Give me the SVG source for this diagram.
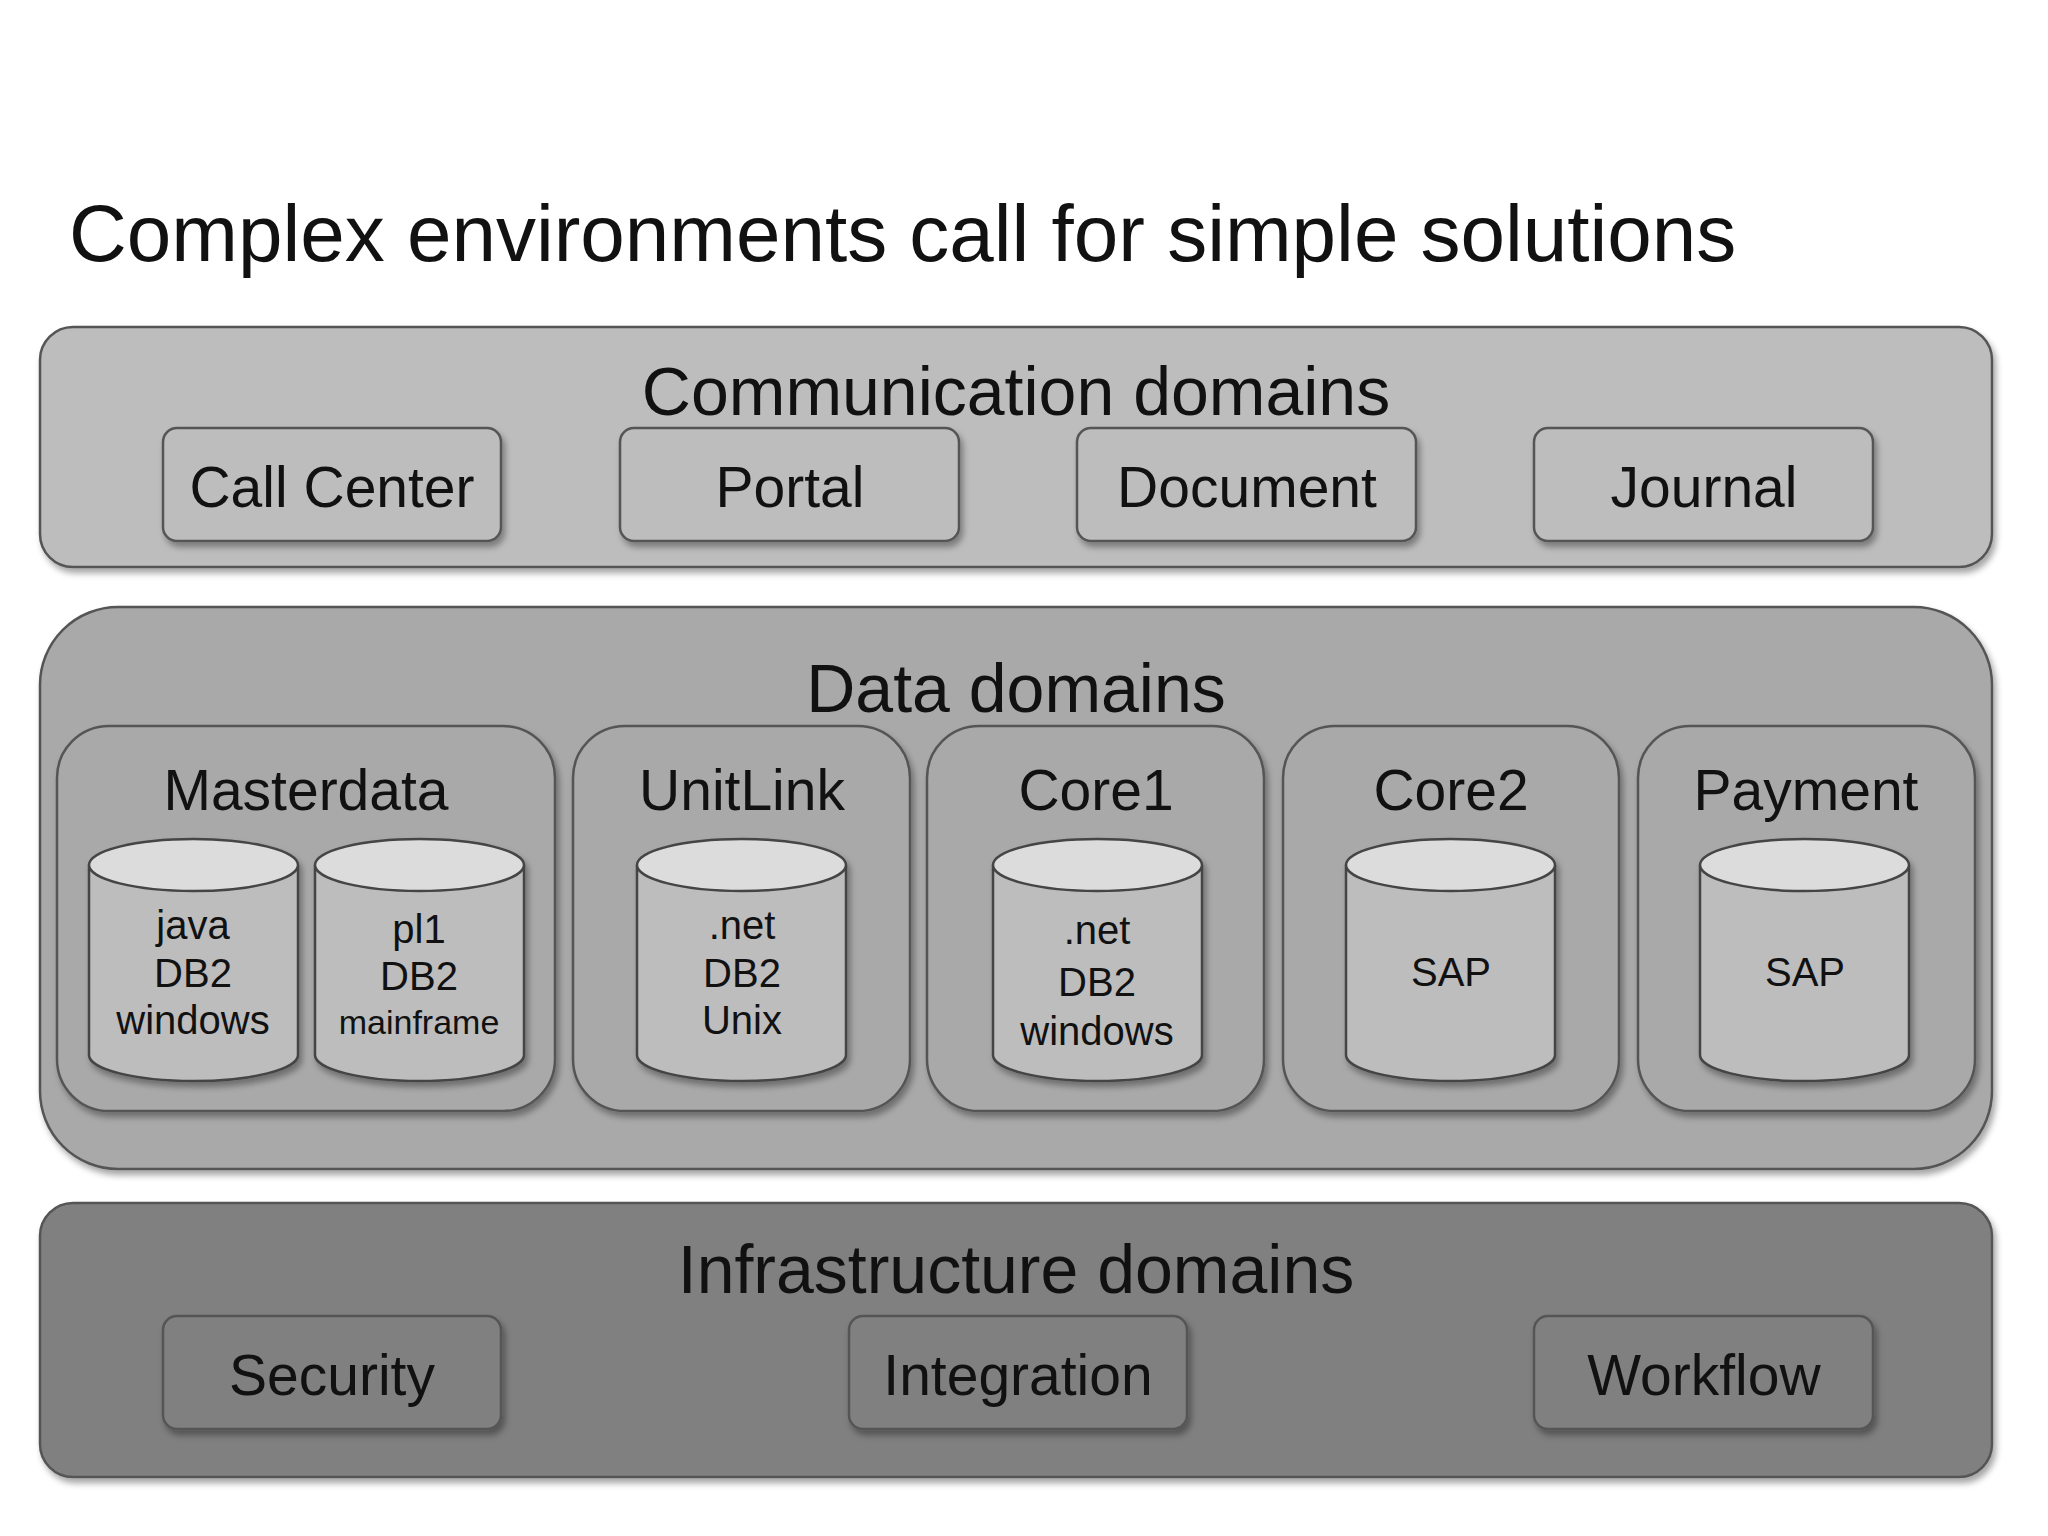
<svg xmlns="http://www.w3.org/2000/svg" width="2048" height="1536" viewBox="0 0 2048 1536">
<defs>
<filter id="sh" x="-10%" y="-10%" width="130%" height="130%"><feDropShadow dx="3" dy="5" stdDeviation="3" flood-color="#000" flood-opacity="0.35"/></filter>
<style>
text{font-family:"Liberation Sans",Arial,sans-serif;fill:#111;text-anchor:middle}
.box{stroke:#555;stroke-width:2.5;filter:url(#sh)}
.cyl{fill:#bdbdbd;stroke:#444;stroke-width:2.5}
.top{fill:#dcdcdc;stroke:#444;stroke-width:2.5}
.h{font-size:68px}.n{font-size:57px}.c{font-size:40px}
</style>
</defs>
<rect width="2048" height="1536" fill="#fff"/>
<text x="69" y="261" style="font-size:80px;text-anchor:start">Complex environments call for simple solutions</text>
<g id="comm">
<rect class="box" x="40" y="327" width="1952" height="240" rx="33" fill="#bdbdbd"/>
<text class="h" x="1016" y="415">Communication domains</text>
<g id="callcenter"><rect class="box" x="163" y="428" width="338" height="113" rx="14" fill="#bdbdbd"/><text class="n" x="332" y="507">Call Center</text></g>
<g id="portal"><rect class="box" x="620" y="428" width="339" height="113" rx="14" fill="#bdbdbd"/><text class="n" x="790" y="507">Portal</text></g>
<g id="document"><rect class="box" x="1077" y="428" width="339" height="113" rx="14" fill="#bdbdbd"/><text class="n" x="1247" y="507">Document</text></g>
<g id="journal"><rect class="box" x="1534" y="428" width="339" height="113" rx="14" fill="#bdbdbd"/><text class="n" x="1704" y="507">Journal</text></g>
</g>
<g id="data">
<rect class="box" x="40" y="607" width="1952" height="562" rx="78" fill="#a9a9a9"/>
<text class="h" x="1016" y="712">Data domains</text>
<g id="masterdata"><rect class="box" x="57" y="726" width="498" height="385" rx="52" fill="#a9a9a9"/><text class="n" x="306" y="810">Masterdata</text></g>
<g id="unitlink"><rect class="box" x="573" y="726" width="337" height="385" rx="52" fill="#a9a9a9"/><text class="n" x="742" y="810">UnitLink</text></g>
<g id="core1"><rect class="box" x="927" y="726" width="337" height="385" rx="52" fill="#a9a9a9"/><text class="n" x="1096" y="810">Core1</text></g>
<g id="core2"><rect class="box" x="1283" y="726" width="336" height="385" rx="52" fill="#a9a9a9"/><text class="n" x="1451" y="810">Core2</text></g>
<g id="payment"><rect class="box" x="1638" y="726" width="337" height="385" rx="52" fill="#a9a9a9"/><text class="n" x="1806" y="810">Payment</text></g>
<g id="db1" filter="url(#sh)"><path class="cyl" d="M89 865 V1055 A104.5 26 0 0 0 298 1055 V865"/><ellipse class="top" cx="193.5" cy="865" rx="104.5" ry="26"/></g>
<text class="c" x="193" y="939">java</text><text class="c" x="193" y="987">DB2</text><text class="c" x="193" y="1034">windows</text>
<g id="db2" filter="url(#sh)"><path class="cyl" d="M315 865 V1055 A104.5 26 0 0 0 524 1055 V865"/><ellipse class="top" cx="419.5" cy="865" rx="104.5" ry="26"/></g>
<text class="c" x="419" y="943">pl1</text><text class="c" x="419" y="990">DB2</text><text x="419" y="1034" style="font-size:34px">mainframe</text>
<g id="db3" filter="url(#sh)"><path class="cyl" d="M637 865 V1055 A104.5 26 0 0 0 846 1055 V865"/><ellipse class="top" cx="741.5" cy="865" rx="104.5" ry="26"/></g>
<text class="c" x="742" y="939">.net</text><text class="c" x="742" y="987">DB2</text><text class="c" x="742" y="1034">Unix</text>
<g id="db4" filter="url(#sh)"><path class="cyl" d="M993 865 V1055 A104.5 26 0 0 0 1202 1055 V865"/><ellipse class="top" cx="1097.5" cy="865" rx="104.5" ry="26"/></g>
<text class="c" x="1097" y="944">.net</text><text class="c" x="1097" y="996">DB2</text><text class="c" x="1097" y="1045">windows</text>
<g id="db5" filter="url(#sh)"><path class="cyl" d="M1346 865 V1055 A104.5 26 0 0 0 1555 1055 V865"/><ellipse class="top" cx="1450.5" cy="865" rx="104.5" ry="26"/></g>
<text class="c" x="1451" y="986">SAP</text>
<g id="db6" filter="url(#sh)"><path class="cyl" d="M1700 865 V1055 A104.5 26 0 0 0 1909 1055 V865"/><ellipse class="top" cx="1804.5" cy="865" rx="104.5" ry="26"/></g>
<text class="c" x="1805" y="986">SAP</text>
</g>
<g id="infra">
<rect class="box" x="40" y="1203" width="1952" height="274" rx="33" fill="#808080"/>
<text class="h" x="1016" y="1293">Infrastructure domains</text>
<g id="security"><rect class="box" x="163" y="1316" width="338" height="113" rx="14" fill="#808080"/><text class="n" x="332" y="1395">Security</text></g>
<g id="integration"><rect class="box" x="849" y="1316" width="338" height="113" rx="14" fill="#808080"/><text class="n" x="1018" y="1395">Integration</text></g>
<g id="workflow"><rect class="box" x="1534" y="1316" width="339" height="113" rx="14" fill="#808080"/><text class="n" x="1704" y="1395">Workflow</text></g>
</g>
<g id="connectors"/>
</svg>
